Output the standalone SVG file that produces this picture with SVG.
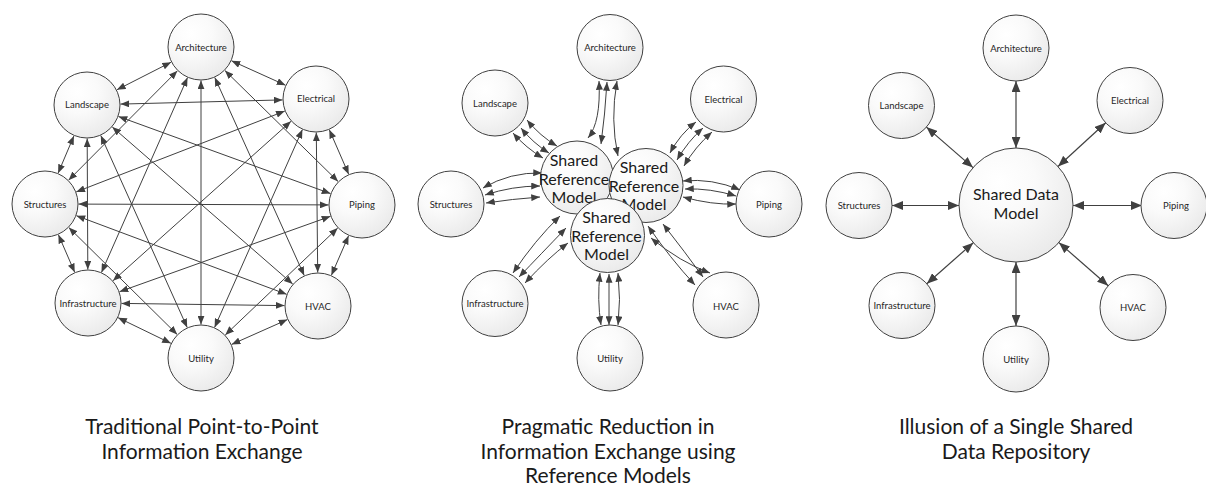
<svg xmlns="http://www.w3.org/2000/svg" width="1206" height="498" viewBox="0 0 1206 498">
<style>
.n{fill:url(#g);stroke:#404040;stroke-width:1}
.t{font-family:Lato,"Liberation Sans",sans-serif;font-size:9.5px;fill:#262626;text-anchor:middle}
.m{font-family:Lato,"Liberation Sans",sans-serif;font-size:16px;fill:#1a1a1a;text-anchor:middle}
.c{font-family:Lato,"Liberation Sans",sans-serif;font-size:21px;fill:#1a1a1a;text-anchor:middle}
.k{fill:none;stroke:#404040;stroke-width:1;marker-start:url(#a);marker-end:url(#a)}
.kb{fill:none;stroke:#404040;stroke-width:1.2;marker-start:url(#b);marker-end:url(#b)}
</style>
<defs>
<radialGradient id="g" cx="0.35" cy="0.3" r="0.8">
<stop offset="0" stop-color="#ffffff"/>
<stop offset="0.4" stop-color="#fafafa"/>
<stop offset="1" stop-color="#e8e8e8"/>
</radialGradient>
<marker id="a" viewBox="0 0 10 8" refX="10" refY="4" markerWidth="9" markerHeight="7" markerUnits="userSpaceOnUse" orient="auto-start-reverse">
<path d="M0,0 L10,4 L0,8 z" fill="#404040"/>
</marker>
<marker id="b" viewBox="0 0 10 8" refX="10" refY="4" markerWidth="11" markerHeight="9" markerUnits="userSpaceOnUse" orient="auto-start-reverse">
<path d="M0,0 L10,4 L0,8 z" fill="#404040"/>
</marker>
</defs>

<g id="connectors">
<!-- left: point to point -->
<path class="k" d="M171.1,62.2 L116.9,89.8"/>
<path class="k" d="M231.5,60.8 L285.5,85.2"/>
<path class="k" d="M177.4,70.8 L68.6,180.2"/>
<path class="k" d="M224.9,70.5 L338.1,181.5"/>
<path class="k" d="M187.5,77.6 L101.5,272.4"/>
<path class="k" d="M214.8,77.5 L304.2,275.5"/>
<path class="k" d="M201,80.5 L201,324.5"/>
<path class="k" d="M120.5,104.1 L282.5,99.9"/>
<path class="k" d="M73.9,135.9 L58.1,173.2"/>
<path class="k" d="M118.5,116.5 L330.5,193.6"/>
<path class="k" d="M87.2,138.5 L87.8,269.5"/>
<path class="k" d="M112.3,127 L292.7,284"/>
<path class="k" d="M100.8,135.5 L187.2,327.5"/>
<path class="k" d="M284.8,111.1 L76.2,191.9"/>
<path class="k" d="M329.3,129.7 L348.7,174.3"/>
<path class="k" d="M291,121.3 L113,280.7"/>
<path class="k" d="M316.3,132.5 L317.7,272.5"/>
<path class="k" d="M302.4,129.6 L214.6,327.4"/>
<path class="k" d="M78.5,204.1 L328.5,204.9"/>
<path class="k" d="M58.4,234.7 L74.7,272.3"/>
<path class="k" d="M76.4,215.7 L286.6,294.3"/>
<path class="k" d="M68.8,227.5 L177.2,334.5"/>
<path class="k" d="M330.5,216.3 L119.5,291.7"/>
<path class="k" d="M348.6,235.7 L331.4,275.3"/>
<path class="k" d="M337.7,228.1 L225.3,334.9"/>
<path class="k" d="M121.5,303.4 L284.5,305.6"/>
<path class="k" d="M118.1,317.7 L170.9,343.3"/>
<path class="k" d="M287.4,319.6 L231.6,344.4"/>

<!-- middle: reference models -->
<path class="k" d="M599,81 Q601,122 588,138"/>
<path class="k" d="M607,82 Q605,115 601,144"/>
<path class="k" d="M617,81 Q610,120 618,156"/>
<path class="k" d="M527,120 Q540,136 557,146"/>
<path class="k" d="M521,128 Q533,143 549,153"/>
<path class="k" d="M513,133 Q526,148 543,158"/>
<path class="k" d="M696,122 Q680,134 670,153"/>
<path class="k" d="M703,128 Q688,141 677,160"/>
<path class="k" d="M712,132 Q695,147 684,166"/>
<path class="k" d="M483,188 Q510,172 542,173"/>
<path class="k" d="M485,195 Q512,186 540,186"/>
<path class="k" d="M486,203 Q512,199 540,197"/>
<path class="k" d="M683,181 Q712,178 740,190"/>
<path class="k" d="M685,189 Q710,188 736,196"/>
<path class="k" d="M683,197 Q712,205 736,204"/>
<path class="k" d="M513,273 Q535,240 560,216"/>
<path class="k" d="M519,277 Q540,255 566,228"/>
<path class="k" d="M525,283 Q548,258 568,243"/>
<path class="k" d="M648,226 Q670,258 695,285"/>
<path class="k" d="M663,224 Q685,252 703,277"/>
<path class="k" d="M651,238 Q680,262 710,273"/>
<path class="k" d="M600,273 Q597,300 601,325"/>
<path class="k" d="M609,274 L609,325"/>
<path class="k" d="M618,273 Q621,300 618,325"/>

<!-- right: shared data model -->
<path class="kb" d="M1016,148 L1016,81"/>
<path class="kb" d="M973,167.6 L926.4,127.1"/>
<path class="kb" d="M1058,166.5 L1105.7,122.8"/>
<path class="kb" d="M959,205.5 L892,205.5"/>
<path class="kb" d="M1073,205.5 L1142,205.5"/>
<path class="kb" d="M973.3,242.7 L926.8,283.7"/>
<path class="kb" d="M1058.9,242.6 L1108.2,285.8"/>
<path class="kb" d="M1016,262 L1016,326"/>
</g>

<!-- left nodes -->
<g id="l-architecture"><circle class="n" cx="201" cy="47" r="33"/><text class="t" x="201" y="50.5">Architecture</text></g>
<g id="l-landscape"><circle class="n" cx="87" cy="105" r="33"/><text class="t" x="87" y="107.5">Landscape</text></g>
<g id="l-electrical"><circle class="n" cx="316" cy="99" r="33"/><text class="t" x="316" y="102">Electrical</text></g>
<g id="l-structures"><circle class="n" cx="45" cy="204" r="33"/><text class="t" x="45" y="207.5">Structures</text></g>
<g id="l-piping"><circle class="n" cx="362" cy="205" r="33"/><text class="t" x="362" y="208">Piping</text></g>
<g id="l-infrastructure"><circle class="n" cx="88" cy="303" r="33"/><text class="t" x="88" y="307">Infrastructure</text></g>
<g id="l-hvac"><circle class="n" cx="318" cy="306" r="33"/><text class="t" x="318" y="310">HVAC</text></g>
<g id="l-utility"><circle class="n" cx="201" cy="358" r="33"/><text class="t" x="201" y="362">Utility</text></g>

<!-- middle nodes -->
<g id="m-architecture"><circle class="n" cx="610" cy="47.5" r="33"/><text class="t" x="610" y="50.5">Architecture</text></g>
<g id="m-landscape"><circle class="n" cx="495" cy="103" r="33"/><text class="t" x="495" y="107">Landscape</text></g>
<g id="m-electrical"><circle class="n" cx="723.5" cy="99" r="33"/><text class="t" x="723.5" y="103">Electrical</text></g>
<g id="m-structures"><circle class="n" cx="451" cy="204" r="33"/><text class="t" x="451" y="207.5">Structures</text></g>
<g id="m-piping"><circle class="n" cx="769" cy="204" r="33"/><text class="t" x="769" y="207.5">Piping</text></g>
<g id="m-infrastructure"><circle class="n" cx="495" cy="303.5" r="33"/><text class="t" x="495" y="307">Infrastructure</text></g>
<g id="m-hvac"><circle class="n" cx="726" cy="305" r="33"/><text class="t" x="726" y="310">HVAC</text></g>
<g id="m-utility"><circle class="n" cx="610" cy="358" r="33"/><text class="t" x="610" y="362">Utility</text></g>
<g id="m-srm1"><circle class="n" cx="577" cy="177.5" r="36.5"/><text class="m" x="574" y="165.5">Shared</text><text class="m" x="574" y="184.5">Reference</text><text class="m" x="574" y="203">Model</text></g>
<g id="m-srm2"><circle class="n" cx="646" cy="185.5" r="37"/><text class="m" x="644" y="173">Shared</text><text class="m" x="644" y="191.5">Reference</text><text class="m" x="644" y="210">Model</text></g>
<g id="m-srm3"><circle class="n" cx="607.5" cy="235.5" r="37"/><text class="m" x="606.5" y="223">Shared</text><text class="m" x="606.5" y="241.5">Reference</text><text class="m" x="606.5" y="260">Model</text></g>

<!-- right nodes -->
<g id="r-sdm"><circle class="n" cx="1016" cy="205" r="57"/><text class="m" x="1016" y="200">Shared Data</text><text class="m" x="1016" y="219">Model</text></g>
<g id="r-architecture"><circle class="n" cx="1016" cy="48" r="33"/><text class="t" x="1016" y="51.5">Architecture</text></g>
<g id="r-landscape"><circle class="n" cx="901.5" cy="105.5" r="33"/><text class="t" x="901.5" y="109">Landscape</text></g>
<g id="r-electrical"><circle class="n" cx="1130" cy="100.5" r="33"/><text class="t" x="1130" y="104">Electrical</text></g>
<g id="r-structures"><circle class="n" cx="859" cy="205.5" r="33"/><text class="t" x="859" y="209">Structures</text></g>
<g id="r-piping"><circle class="n" cx="1174" cy="205.5" r="33"/><text class="t" x="1176" y="209">Piping</text></g>
<g id="r-infrastructure"><circle class="n" cx="902" cy="305.5" r="33"/><text class="t" x="902" y="309">Infrastructure</text></g>
<g id="r-hvac"><circle class="n" cx="1133" cy="307.5" r="33"/><text class="t" x="1133" y="311">HVAC</text></g>
<g id="r-utility"><circle class="n" cx="1016" cy="359" r="33"/><text class="t" x="1016" y="362.5">Utility</text></g>

<g id="captions">
<text class="c" x="202" y="434">Traditional Point-to-Point</text>
<text class="c" x="202" y="458.5">Information Exchange</text>
<text class="c" x="608" y="434">Pragmatic Reduction in</text>
<text class="c" x="608" y="458.5">Information Exchange using</text>
<text class="c" x="608" y="483">Reference Models</text>
<text class="c" x="1016" y="434">Illusion of a Single Shared</text>
<text class="c" x="1016" y="458.5">Data Repository</text>
</g>
</svg>
